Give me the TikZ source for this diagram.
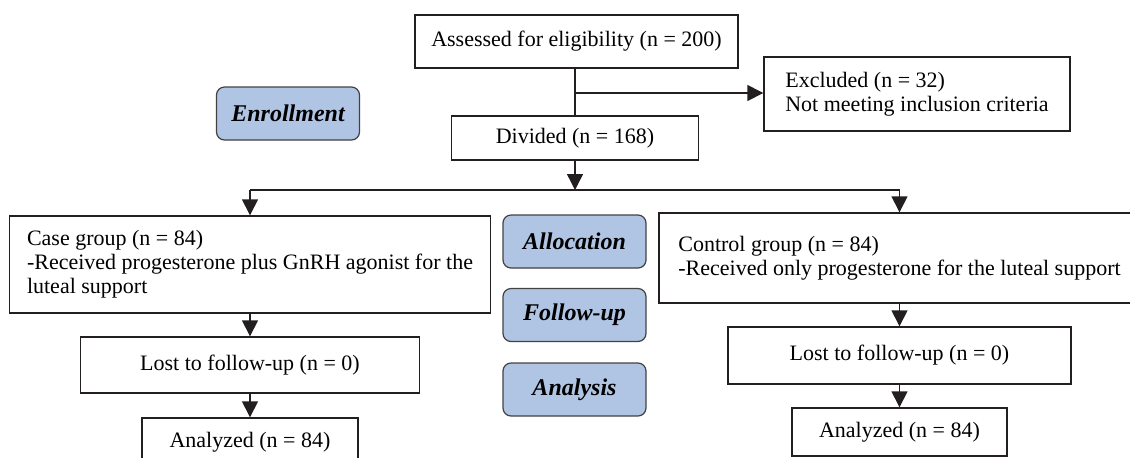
\documentclass[tikz,border=0pt]{standalone}
\usepackage{fontspec}
\setmainfont{Liberation Serif}
\usetikzlibrary{arrows.meta,positioning}
\definecolor{phase}{RGB}{176,197,228}
\definecolor{ink}{RGB}{35,31,32}

\begin{document}
\begin{tikzpicture}[x=0.5pt,y=-0.5pt,
    box/.style={draw=ink, line width=0.7pt, inner sep=0pt, font=\fontsize{11}{12}\selectfont},
    phasebox/.style={draw=ink!85, fill=phase, rounded corners=4pt, line width=0.6pt, minimum width=71.5pt, minimum height=26.5pt, font=\fontsize{12}{14}\selectfont\bfseries\itshape},
    link/.style={draw=ink, line width=0.7pt, -{Triangle[length=8pt,width=8pt]}}]
    \clip (0,0) rectangle (1130,457);
    \node[box, minimum width=161.5pt, minimum height=26.5pt] (assess) at (576.5,41.5) {Assessed for eligibility (n = 200)};
    \node[box, align=left, minimum width=153pt, minimum height=37pt] (excl) at (917,94) {Excluded (n = 32)\\Not meeting inclusion criteria};
    \node[box, minimum width=123.5pt, minimum height=22pt] (div) at (575,138) {Divided (n = 168)};
    \node[box, align=left, minimum width=240.5pt, minimum height=48.5pt] (case) at (250,264.5) {Case group (n = 84)\\-Received progesterone plus GnRH agonist for the\\luteal support};
    \node[box, align=left, minimum width=240.5pt, minimum height=45pt] (ctrl) at (899.5,258) {Control group (n = 84)\\-Received only progesterone for the luteal support};
    \node[box, minimum width=169.5pt, minimum height=28pt] (lostcase) at (250,365) {Lost to follow-up (n = 0)};
    \node[box, minimum width=171.5pt, minimum height=28.5pt] (lostctrl) at (899.5,355.5) {Lost to follow-up (n = 0)};
    \node[box, minimum width=108pt, minimum height=24pt] (anacase) at (250,442) {Analyzed (n = 84)};
    \node[box, minimum width=107.5pt, minimum height=24pt] (anactrl) at (899.5,432) {Analyzed (n = 84)};

    \node[phasebox] (enrol) at (288,113.5) {Enrollment};
    \node[phasebox] (alloc) at (574.5,241.5) {Allocation};
    \node[phasebox] (follow) at (574.5,315) {Follow-up};
    \node[phasebox] (analysis) at (574.5,389.5) {Analysis};

    \coordinate (branch) at (575,93);
    \coordinate (split) at (575,190);
    \draw[draw=ink, line width=0.7pt] (assess.south -| div.north) -- (div.north);
    \draw[link] (branch) -- (branch -| excl.west);
    \draw[link] (div.south) -- (split);
    \draw[draw=ink, line width=0.7pt] (case.north |- split) -- (ctrl.north |- split);
    \draw[link] (case.north |- split) -- (case.north);
    \draw[link] (ctrl.north |- split) -- (ctrl.north);
    \draw[link] (case) -- (lostcase);
    \draw[link] (lostcase) -- (anacase);
    \draw[link] (ctrl) -- (lostctrl);
    \draw[link] (lostctrl) -- (anactrl);
\end{tikzpicture}
\end{document}
